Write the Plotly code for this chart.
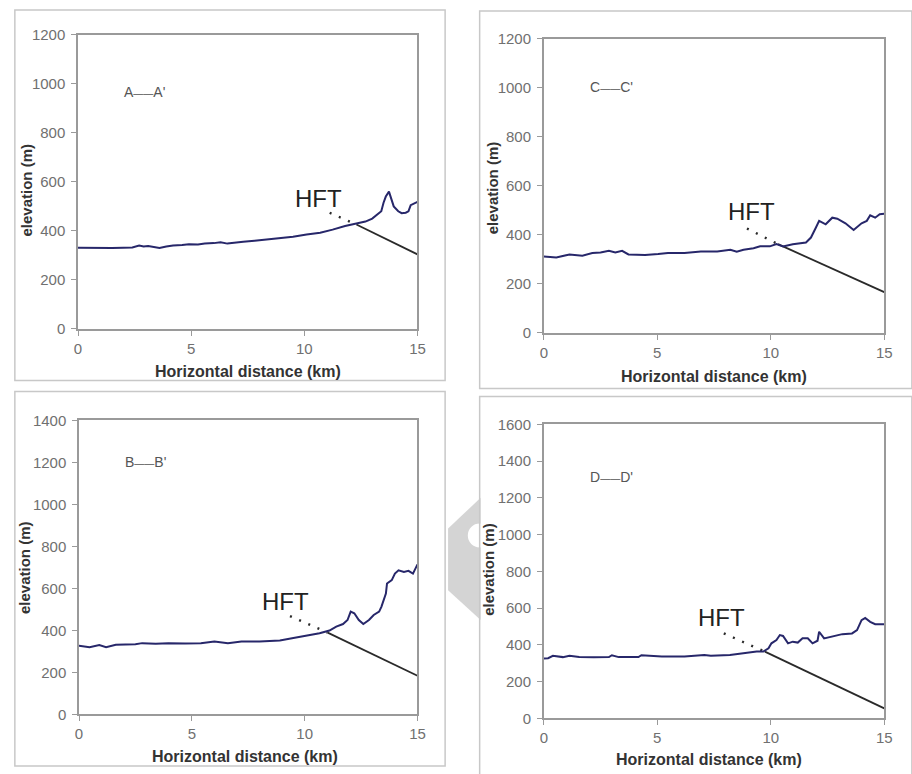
import plotly.graph_objects as go

# ---------------- data ----------------
# Profile A-A'
a_x = [0, 0.5, 1.0, 1.5, 2.0, 2.4, 2.7, 2.9, 3.1, 3.3, 3.6, 3.9, 4.2, 4.6, 4.9, 5.3, 5.6, 6.0, 6.3, 6.6,
       6.9, 7.3, 7.8, 8.2, 8.6, 9.0, 9.5, 10.1, 10.7, 11.25, 11.8, 12.3, 12.7, 13.0, 13.2, 13.4, 13.5,
       13.6, 13.74, 13.85, 13.95, 14.15, 14.3, 14.48, 14.6, 14.7, 14.85, 15.0]
a_y = [331, 330, 331, 330, 331, 332, 340, 336, 338, 334, 330, 336, 340, 342, 345, 344, 348, 350, 353, 348,
       352, 356, 360, 364, 366, 370, 376, 385, 392, 405, 420, 430, 438, 450, 466, 480, 515,
       540, 560, 530, 500, 480, 472, 474, 480, 505, 512, 518]
a_fault_x = [12.3, 15]
a_fault_y = [426, 304]
a_dot_x = [11.12, 12.3]
a_dot_y = [474, 426]

# Profile C-C'
c_x = [0, 0.55, 1.13, 1.7, 2.14, 2.5, 2.87, 3.15, 3.45, 3.73, 4.1, 4.46, 5.04, 5.47, 6.2, 6.92, 7.64, 8.22,
       8.5, 8.8, 9.24, 9.53, 9.96, 10.25, 10.54, 10.97, 11.55, 11.77, 11.99, 12.13, 12.42, 12.71, 12.93,
       13.29, 13.65, 13.8, 14.0, 14.23, 14.38, 14.6, 14.8, 15]
c_y = [312, 308, 320, 315, 326, 328, 335, 328, 335, 320, 319, 318, 322, 326, 326, 332, 332, 339,
       331, 339, 345, 353, 353, 362, 353, 362, 369, 389, 430, 457, 443, 470, 466,
       447, 420, 430, 447, 457, 480, 470, 484, 486]
c_fault_x = [10.32, 15]
c_fault_y = [362, 166]
c_dot_x = [8.95, 10.32]
c_dot_y = [426, 362]

# Profile B-B'
b_x = [0, 0.47, 0.9, 1.2, 1.63, 2.5, 2.8, 3.4, 3.96, 4.7, 5.4, 6.0, 6.6, 7.2, 8.0, 8.9, 9.5, 10.1, 10.66,
       11.1, 11.4, 11.7, 11.9, 12.04, 12.2, 12.4, 12.6, 12.85, 13.06, 13.3, 13.4, 13.6, 13.65, 13.86,
       14.0, 14.16, 14.4, 14.6, 14.8, 15]
b_y = [326, 320, 330, 320, 331, 334, 339, 336, 339, 337, 339, 347, 339, 347, 347, 352, 363, 374, 386,
       399, 418, 430, 449, 489, 481, 449, 430, 449, 473, 489, 512, 575, 623, 639,
       670, 686, 678, 683, 670, 714]
b_fault_x = [11.02, 15]
b_fault_y = [389, 184]
b_dot_x = [9.35, 11.02]
b_dot_y = [468, 389]

# Profile D-D'
d_x = [0, 0.19, 0.4, 0.84, 1.13, 1.56, 2.2, 2.87, 3.0, 3.3, 4.17, 4.3, 5.2, 6.2, 7.07, 7.36, 8.2, 8.8,
       9.38, 9.67, 9.9, 10.03, 10.25, 10.4, 10.54, 10.76, 10.97, 11.19, 11.4, 11.63, 11.84, 12.06, 12.13,
       12.35, 12.64, 12.86, 13.15, 13.58, 13.8, 14.0, 14.16, 14.38, 14.6, 15]
d_y = [325, 327, 340, 333, 340, 333, 332, 333, 343, 333, 333, 343, 336, 336, 345, 340, 345, 354,
       363, 363, 381, 408, 426, 453, 448, 408, 417, 412, 435, 435, 408, 422, 471,
       435, 444, 453, 458, 462, 480, 534, 546, 525, 512, 512]
d_fault_x = [9.74, 15]
d_fault_y = [363, 54]
d_dot_x = [7.93, 9.74]
d_dot_y = [462, 363]

panel_labels = ["A<span style='font-size:10px'>——</span>A'",
                "C<span style='font-size:10px'>——</span>C'",
                "B<span style='font-size:10px'>——</span>B'",
                "D<span style='font-size:10px'>——</span>D'"]
label_pos = [(2.93, 967), (3.0, 1004), (2.94, 1203), (3.0, 1311)]
hft_pos = [(10.63, 532), (9.17, 497), (9.16, 539), (7.82, 548)]
y_max = [1200, 1200, 1400, 1600]
x_ticks = [0, 5, 10, 15]

# ---------------- layout geometry (target screen pixels) ----------------
W, H = 912, 774
# plot areas: (left, right, top, bottom)
areas = [(75, 419, 34, 330), (547, 892, 38, 334), (76, 419, 422, 718), (547, 892, 426, 722)]
boxes = [(11, 447, 9, 382), (482, 920, 10, 390), (11, 447, 393, 770), (482, 920, 398, 790)]
xtitle_pos = [(247, 373), (719, 378), (244, 760), (714, 763)]
ytitle_pos = [(23, 190), (495, 188), (21, 570), (491, 572)]

FONT = "Liberation Sans, Arial, sans-serif"
PROFILE_COLOR = "#27276a"
FAULT_COLOR = "#2a2a2a"

# the captured picture shows the page slightly shifted/compressed vertically
Y_OFF, Y_SCALE = 8.0, 0.9845


def px(x):
    return x / W


def py(y):
    yf = (y - Y_OFF) / Y_SCALE
    return 1 - yf / H


fig = go.Figure()

profiles = [(a_x, a_y, a_fault_x, a_fault_y, a_dot_x, a_dot_y),
            (c_x, c_y, c_fault_x, c_fault_y, c_dot_x, c_dot_y),
            (b_x, b_y, b_fault_x, b_fault_y, b_dot_x, b_dot_y),
            (d_x, d_y, d_fault_x, d_fault_y, d_dot_x, d_dot_y)]

# watermark chevron (background decoration)
fig.add_shape(type="path", xref="paper", yref="paper",
              path=f"M {px(483)},{py(500)} L {px(450)},{py(531)} L {px(450)},{py(593)} L {px(483)},{py(623)} Z",
              fillcolor="#d4d4d4", line=dict(width=0), layer="below")
fig.add_shape(type="circle", xref="paper", yref="paper",
              x0=px(470), x1=px(494), y0=py(550), y1=py(526),
              fillcolor="white", line=dict(width=0), layer="below")

for i, (px_, py_, fx, fy, dx, dy) in enumerate(profiles):
    n = "" if i == 0 else str(i + 1)
    xa, ya = "x" + n, "y" + n
    fig.add_trace(go.Scatter(x=fx, y=fy, mode="lines", xaxis=xa, yaxis=ya,
                             line=dict(color=FAULT_COLOR, width=1.8), showlegend=False, hoverinfo="skip"))
    fig.add_trace(go.Scatter(x=dx, y=dy, mode="lines", xaxis=xa, yaxis=ya,
                             line=dict(color=FAULT_COLOR, width=2.4, dash="2px,8px"), showlegend=False,
                             hoverinfo="skip"))
    fig.add_trace(go.Scatter(x=px_, y=py_, mode="lines", xaxis=xa, yaxis=ya,
                             line=dict(color=PROFILE_COLOR, width=2), showlegend=False))

    l, r, t, b = areas[i]
    axis_common = dict(showgrid=False, zeroline=False, showline=True, linecolor="#9a9a9a", linewidth=1.5,
                       mirror=True, ticks="outside", ticklen=5, tickcolor="#9a9a9a",
                       tickfont=dict(family=FONT, size=15, color="#707070"))
    fig.layout["xaxis" + n] = dict(domain=[px(l), px(r)], anchor=ya, range=[0, 15],
                                   tickvals=x_ticks, ticklabelstandoff=0, **axis_common)
    fig.layout["yaxis" + n] = dict(domain=[py(b), py(t)], anchor=xa, range=[0, y_max[i]],
                                   dtick=200, ticklabelstandoff=3, **axis_common)

    bl, br, bt, bb = boxes[i]
    fig.add_shape(type="rect", xref="paper", yref="paper", x0=px(bl), x1=px(br), y0=py(bb), y1=py(bt),
                  line=dict(color="#c8c8c8", width=1.5), layer="below")

    tx, ty = xtitle_pos[i]
    fig.add_annotation(x=px(tx), y=py(ty), xref="paper", yref="paper", text="<b>Horizontal distance (km)</b>",
                       showarrow=False, font=dict(family=FONT, size=16, color="#333333"),
                       xanchor="center", yanchor="middle")
    tx, ty = ytitle_pos[i]
    fig.add_annotation(x=px(tx), y=py(ty), xref="paper", yref="paper", text="<b>elevation (m)</b>",
                       showarrow=False, textangle=-90, font=dict(family=FONT, size=15, color="#333333"),
                       xanchor="center", yanchor="middle")

    lx, ly = label_pos[i]
    fig.add_annotation(x=lx, y=ly, xref=xa, yref=ya, text=panel_labels[i], showarrow=False,
                       font=dict(family=FONT, size=14, color="#555555"), xanchor="center", yanchor="middle")
    hx, hy = hft_pos[i]
    fig.add_annotation(x=hx, y=hy, xref=xa, yref=ya, text="HFT", showarrow=False,
                       font=dict(family=FONT, size=24, color="#222222"), xanchor="center", yanchor="middle")

fig.update_layout(width=W, height=H, margin=dict(l=0, r=0, t=0, b=0),
                  paper_bgcolor="white", plot_bgcolor="white", showlegend=False)

fig.write_html("out.html", config={"displayModeBar": False},
               post_script="document.body.style.margin='0';document.body.style.overflow='hidden';")
